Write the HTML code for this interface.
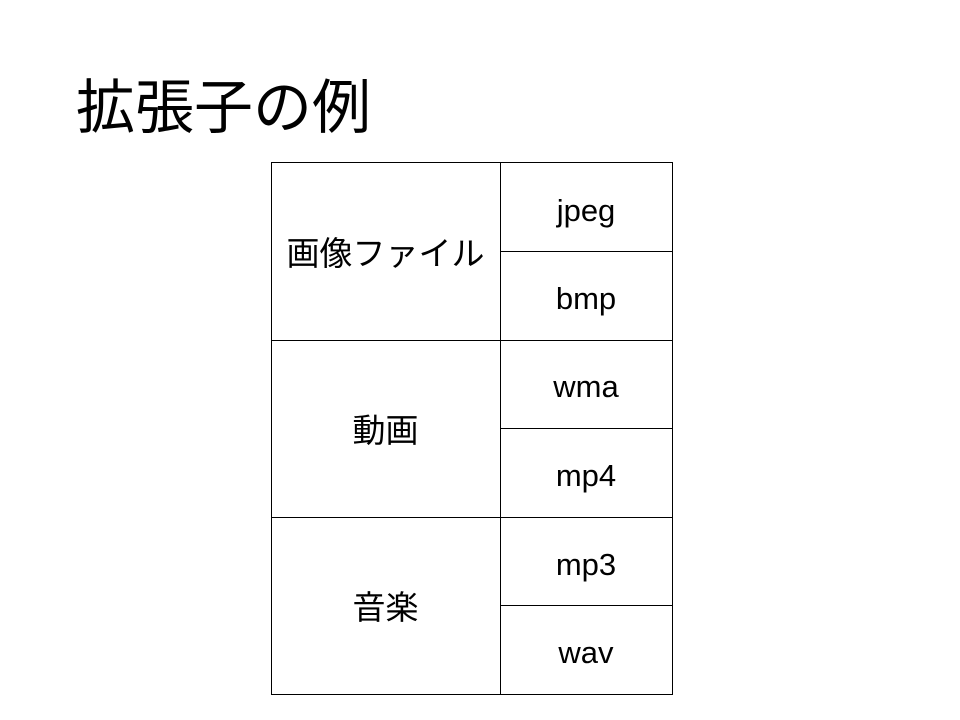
<!DOCTYPE html>
<html><head><meta charset="utf-8"><style>
body{margin:0;width:960px;height:720px;background:#fff;position:relative;overflow:hidden;font-family:"Liberation Sans","Noto Sans CJK JP",sans-serif;color:#000}
.t{position:absolute;left:76px;top:75px;font-size:59px;line-height:66px;white-space:nowrap}
.h{position:absolute;height:1px;background:#000}
.v{position:absolute;width:1px;background:#000}
.c{position:absolute;text-align:center;white-space:nowrap}
.l{font-size:33px;left:271px;width:229px}
.r{font-size:31px;left:500px;width:172px}
</style></head><body>
<div class="t">拡張子の例</div>
<div class="h" style="left:271px;width:402px;top:162px"></div>
<div class="h" style="left:271px;width:402px;top:340px"></div>
<div class="h" style="left:271px;width:402px;top:517px"></div>
<div class="h" style="left:271px;width:402px;top:694px"></div>
<div class="h" style="left:500px;width:173px;top:251px"></div>
<div class="h" style="left:500px;width:173px;top:428px"></div>
<div class="h" style="left:500px;width:173px;top:605px"></div>
<div class="v" style="left:271px;top:162px;height:533px"></div>
<div class="v" style="left:500px;top:162px;height:533px"></div>
<div class="v" style="left:672px;top:162px;height:533px"></div>
<div class="c l" style="top:234px;line-height:40px">画像ファイル</div>
<div class="c l" style="top:411px;line-height:40px">動画</div>
<div class="c l" style="top:588px;line-height:40px">音楽</div>
<div class="c r" style="top:191px;line-height:40px">jpeg</div>
<div class="c r" style="top:279px;line-height:40px">bmp</div>
<div class="c r" style="top:367px;line-height:40px">wma</div>
<div class="c r" style="top:456px;line-height:40px">mp4</div>
<div class="c r" style="top:545px;line-height:40px">mp3</div>
<div class="c r" style="top:633px;line-height:40px">wav</div>
</body></html>
